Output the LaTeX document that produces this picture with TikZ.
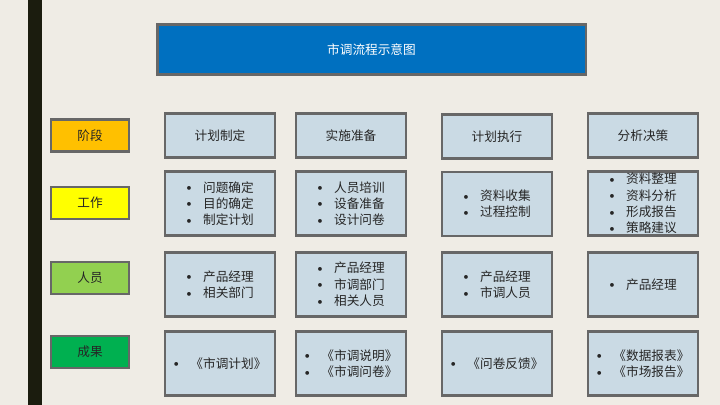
\documentclass[tikz,border=0pt]{standalone}
\usepackage{fontspec}
\setmainfont{Noto Sans CJK SC}
\usepackage[table]{xcolor}
\usepackage{tikz}
\usetikzlibrary{backgrounds,calc,positioning,fit}
\definecolor{paper}{HTML}{EFECE5}
\definecolor{sidebar}{HTML}{1B1C0E}
\definecolor{titleblue}{HTML}{0070C0}
\definecolor{cellblue}{HTML}{CADAE4}
\definecolor{rim}{HTML}{676767}
\definecolor{jieduan}{HTML}{FFC000}
\definecolor{gongzuo}{HTML}{FFFF00}
\definecolor{renyuan}{HTML}{92D050}
\definecolor{chengguo}{HTML}{00B050}
\newcommand{\itm}[1]{\makebox[12pt][l]{\raisebox{1pt}{\fontsize{6}{6}\selectfont$\bullet$}}#1}

\begin{document}
\begin{tikzpicture}[x=0.025cm,y=-0.025cm,
  box/.style={draw=rim,line width=1.5pt,inner sep=0pt,text=black!85,
    font=\fontsize{9}{11.6}\selectfont,align=left},
  tag/.style={box,minimum width=1.95cm,minimum height=0.8cm},
  cell/.style={box,fill=cellblue,minimum width=2.75cm,minimum height=1.6cm},
  head/.style={cell,minimum height=1.1cm}]
\useasboundingbox (0,0) rectangle (720,405);
\fill[paper] (0,0) rectangle (720,405);
\fill[sidebar] (28,0) rectangle (42,405);

\node[box,fill=titleblue,text=white,minimum width=10.7cm,minimum height=1.25cm]
  (title) at (371.5,49.5) {市调流程示意图};

\node[tag,fill=jieduan] (jieduan) at (90,135.5) {阶段};
\node[tag,fill=gongzuo] (gongzuo) at (90,203) {工作};
\node[tag,fill=renyuan] (renyuan) at (90,278) {人员};
\node[tag,fill=chengguo] (chengguo) at (90,352) {成果};

\node[head] (h1) at (220,135.5) {计划制定};
\node[head] (h2) at (351,135.5) {实施准备};
\node[head] (h3) at (497,136.5) {计划执行};
\node[head] (h4) at (643,135.5) {分析决策};

\node[cell] (w1) at (220,203.5) {\itm{问题确定}\\\itm{目的确定}\\\itm{制定计划}};
\node[cell] (w2) at (351,203.5) {\itm{人员培训}\\\itm{设备准备}\\\itm{设计问卷}};
\node[cell] (w3) at (497,204) {\itm{资料收集}\\\itm{过程控制}};
\node[cell] (w4) at (643,203.5) {\itm{资料整理}\\\itm{资料分析}\\\itm{形成报告}\\\itm{策略建议}};

\node[cell] (p1) at (220,284.5) {\itm{产品经理}\\\itm{相关部门}};
\node[cell] (p2) at (351,284.5) {\itm{产品经理}\\\itm{市调部门}\\\itm{相关人员}};
\node[cell] (p3) at (497,284.5) {\itm{产品经理}\\\itm{市调人员}};
\node[cell] (p4) at (643,284.5) {\itm{产品经理}};

\node[cell] (r1) at (220,363.5) {\itm{《市调计划》}};
\node[cell] (r2) at (351,363.5) {\itm{《市调说明》}\\\itm{《市调问卷》}};
\node[cell] (r3) at (497,363.5) {\itm{《问卷反馈》}};
\node[cell] (r4) at (643,363.5) {\itm{《数据报表》}\\\itm{《市场报告》}};
\end{tikzpicture}
\end{document}
